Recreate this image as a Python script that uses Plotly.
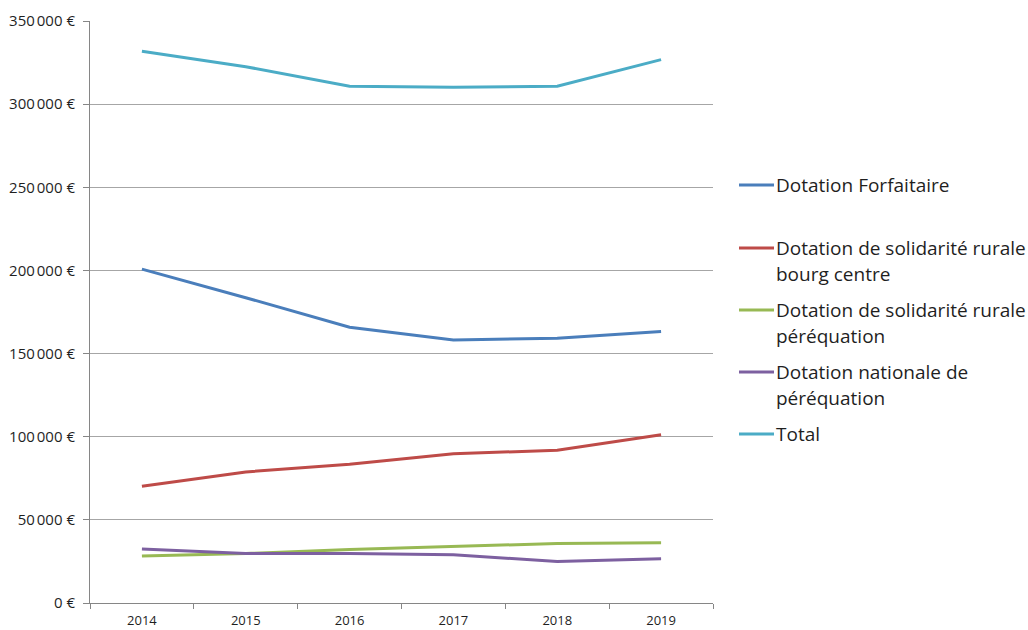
import plotly.graph_objects as go

# Dotations received per year (euros)
years = ["2014", "2015", "2016", "2017", "2018", "2019"]
forfaitaire = [200800, 183600, 165800, 158200, 159200, 163200]
dsr_bourg_centre = [70200, 78800, 83400, 89800, 91800, 101200]
dsr_perequation = [28200, 29800, 32200, 34200, 35800, 36200]
dnp = [32400, 29800, 29800, 29000, 25000, 26600]
total = [331800, 322500, 310800, 310200, 310800, 326800]

y_ticks = [0, 50000, 100000, 150000, 200000, 250000, 300000, 350000]
y_tick_labels = ["0 €", "50\u202f000 €", "100\u202f000 €", "150\u202f000 €",
                 "200\u202f000 €", "250\u202f000 €", "300\u202f000 €", "350\u202f000 €"]

series = [
    (["Dotation Forfaitaire"], forfaitaire, "#4A7EBB"),
    (["Dotation de solidarité rurale", "bourg centre"], dsr_bourg_centre, "#BE4B48"),
    (["Dotation de solidarité rurale", "péréquation"], dsr_perequation, "#98B954"),
    (["Dotation nationale de", "péréquation"], dnp, "#7D60A0"),
    (["Total"], total, "#4BACC6"),
]

FONT = "Open Sans"
TEXT = "#1f1f1f"
W, H = 1028, 630
L, R, T, B = 90, 315, 21, 27
plot_w, plot_h = W - L - R, H - T - B

fig = go.Figure()
for label, vals, color in series:
    fig.add_trace(go.Scatter(
        x=years, y=vals, mode="lines", name=" ".join(label),
        line=dict(color=color, width=3), showlegend=False,
    ))

# Hand-laid legend on the right: evenly spaced entries, wrapped labels
def px_x(px):
    return (px - L) / plot_w

def px_y(py):
    return (H - B - py) / plot_h

entry_tops = [185, 248, 310, 372, 434]
line_gap = 26
for (label, _, color), y0 in zip(series, entry_tops):
    fig.add_shape(type="line", xref="paper", yref="paper",
                  x0=px_x(739), x1=px_x(774), y0=px_y(y0), y1=px_y(y0),
                  line=dict(color=color, width=3))
    for i, part in enumerate(label):
        fig.add_annotation(xref="paper", yref="paper",
                           x=px_x(774), y=px_y(y0 + i * line_gap),
                           xanchor="left", yanchor="middle", showarrow=False,
                           text=part, font=dict(family=FONT, size=19, color=TEXT))

fig.update_layout(
    width=W, height=H,
    margin=dict(l=L, r=R, t=T, b=B),
    paper_bgcolor="white", plot_bgcolor="white",
    font=dict(family=FONT, color=TEXT),
    xaxis=dict(
        type="category", range=[-0.5, 5.5], tickson="boundaries",
        ticks="outside", ticklen=5, tickcolor="#868686",
        showline=True, linecolor="#868686", linewidth=1, showgrid=False,
        tickfont=dict(size=13, color=TEXT), ticklabelstandoff=5,
        automargin=False,
    ),
    yaxis=dict(
        range=[0, 350000], tickvals=y_ticks, ticktext=y_tick_labels,
        ticks="outside", ticklen=6, tickcolor="#868686",
        showline=True, linecolor="#868686", linewidth=1,
        showgrid=True, gridcolor="#a6a6a6", gridwidth=1, zeroline=False,
        tickfont=dict(size=15, color=TEXT), ticklabelstandoff=5,
        automargin=False,
    ),
)

fig.write_html("out.html")
